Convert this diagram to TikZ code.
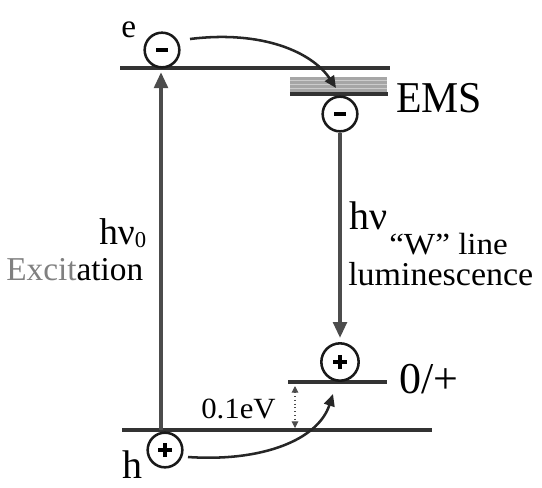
\documentclass[tikz,border=0pt]{standalone}
\usepackage{fontspec}
\setmainfont{Liberation Serif}
\usetikzlibrary{arrows.meta}
\begin{document}
\begin{tikzpicture}[x=0.75pt,y=-0.75pt,
  lvl/.style={line width=2.4pt, draw=black!80},
  chg/.style={circle, draw=black!90, line width=1.9pt, minimum size=26pt, inner sep=0pt},
  chgp/.style={chg, minimum size=28pt},
  varrow/.style={line width=3pt, draw=black!70, -{Triangle[length=12pt,width=10pt]}},
  carrow/.style={line width=1.9pt, draw=black!85, -{Triangle[length=9pt,width=8pt]}},
  darrow/.style={line width=0.8pt, dotted, black!70, {Triangle[length=5pt,width=5pt]}-{Triangle[length=5pt,width=5pt]}},
  lbl/.style={inner sep=0pt, anchor=base west},
  sgn/.style={line width=2.8pt, black}
]
\useasboundingbox (0,0) rectangle (542,487);

% levels
\coordinate (cbL) at (120,68);
\coordinate (cbR) at (390,68);
\coordinate (vbL) at (122,430);
\coordinate (vbR) at (432,430);
\coordinate (emsL) at (290,94);
\coordinate (emsR) at (388,94);
\coordinate (accL) at (288,382);
\coordinate (accR) at (387,382);

% EMS shaded band
\fill[black!35] (290,77) rectangle (387,93);
\foreach \yy in {80,84,88} \draw[black!20, line width=0.6pt] (290,\yy) -- (387,\yy);

\draw[lvl] (cbL) -- (cbR);
\draw[lvl] (vbL) -- (vbR);
\draw[lvl] (emsL) -- (emsR);
\draw[lvl] (accL) -- (accR);

% charges
\node[chg] (e1) at (162,50) {};
\node[chg] (e2) at (340,114) {};
\node[chgp] (h2) at (340,362) {};
\node[chg] (h1) at (165,450) {};
\foreach \n in {e1,e2} \draw[sgn, line width=3.2pt] ([xshift=-4.5pt]\n.center) -- ([xshift=4.5pt]\n.center);
\foreach \n in {h1,h2} {
  \draw[sgn, line width=2.5pt] ([xshift=-5pt]\n.center) -- ([xshift=5pt]\n.center);
  \draw[sgn, line width=2.5pt] ([yshift=-5pt]\n.center) -- ([yshift=5pt]\n.center);
}

% vertical arrows
\coordinate (exBot) at (161,430);
\coordinate (exTop) at (161,72);
\draw[varrow] (exBot) -- (exTop);
\draw[varrow, shorten >=3pt] (e2.south) -- (h2.north);

% curved arrows
\coordinate (c1s) at (190,39);
\coordinate (emsTip) at (336,88);
\coordinate (c2s) at (188,457);
\coordinate (accTip) at (333,394);
\draw[carrow] (c1s) .. controls (262,30) and (312,52) .. (emsTip);
\draw[carrow] (c2s) .. controls (262,462) and (318,440) .. (accTip);

% 0.1 eV gap
\coordinate (gTop) at (295,386);
\coordinate (gBot) at (295,428);
\draw[darrow] (gTop) -- (gBot);

% labels
\node[lbl, font=\fontsize{25}{25}\selectfont] (le) at (121,37) {e};
\node[lbl, font=\fontsize{30}{30}\selectfont] (lh) at (122,478) {h};
\node[lbl, font=\fontsize{33}{33}\selectfont, xscale=0.95] (lems) at (396,112) {EMS};
\node[lbl, font=\fontsize{33}{33}\selectfont] (lacc) at (399,393) {0/+};
\node[lbl, font=\fontsize{28}{28}\selectfont] (lhv0) at (99,244) {hν\raisebox{-0.2ex}{\fontsize{17}{17}\selectfont 0}};
\node[lbl, font=\fontsize{25}{25}\selectfont] (lexc) at (6,280) {{\color{black!50}Excit}ation};
\node[lbl, font=\fontsize{30}{30}\selectfont] (lhv) at (349,229) {hν};
\node[lbl, font=\fontsize{23}{23}\selectfont, xscale=1.08] (lw) at (389,254) {“W” line};
\node[lbl, font=\fontsize{25}{25}\selectfont, xscale=1.02] (llum) at (348,285) {luminescence};
\node[lbl, font=\fontsize{22}{22}\selectfont, xscale=1.05] (lgap) at (201,418) {0.1eV};
\end{tikzpicture}
\end{document}
